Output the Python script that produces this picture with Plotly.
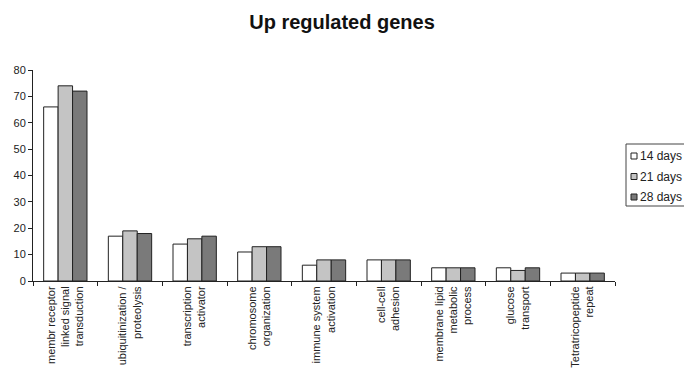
import plotly.graph_objects as go

categories = [
    "membr receptor<br>linked signal<br>transduction",
    "ubiquitinization /<br>proteolysis",
    "transcription<br>activator",
    "chromosome<br>organization",
    "immune system<br>activation",
    "cell-cell<br>adhesion",
    "membrane lipid<br>metabolic<br>process",
    "glucose<br>transport",
    "Tetratricopeptide<br>repeat",
]
days14 = [66, 17, 14, 11, 6, 8, 5, 5, 3]
days21 = [74, 19, 16, 13, 8, 8, 5, 4, 3]
days28 = [72, 18, 17, 13, 8, 8, 5, 5, 3]
series_names = ["14 days", "21 days", "28 days"]
colors = ["#ffffff", "#c4c4c4", "#7a7a7a"]

W, H = 684, 377
L, R, T, B = 33, 69, 70, 96
PW, PH = W - L - R, H - T - B


def px_x(p):
    return (p - L) / PW


def px_y(p):
    return (H - B - p) / PH


fig = go.Figure()
for name, vals, col in zip(series_names, [days14, days21, days28], colors):
    fig.add_trace(go.Bar(
        x=categories, y=vals, name=name,
        marker=dict(color=col, line=dict(color="#222222", width=1)),
    ))

# manual legend (box, swatches, labels)
shapes = [dict(type="rect", xref="paper", yref="paper",
               x0=px_x(626), x1=px_x(700), y0=px_y(206), y1=px_y(144),
               line=dict(color="#444444", width=1), fillcolor="white", layer="above")]
annotations = []
for i, (name, col) in enumerate(zip(series_names, colors)):
    cy = 156 + i * 20.5
    shapes.append(dict(type="rect", xref="paper", yref="paper",
                       x0=px_x(631), x1=px_x(637), y0=px_y(cy + 3), y1=px_y(cy - 3),
                       line=dict(color="#222222", width=1), fillcolor=col, layer="above"))
    annotations.append(dict(text=name, xref="paper", yref="paper", x=px_x(638), y=px_y(cy),
                            xanchor="left", yanchor="middle", showarrow=False,
                            font=dict(size=12, color="#222222")))

fig.update_layout(
    width=W, height=H,
    margin=dict(l=L, r=R, t=T, b=B),
    paper_bgcolor="white", plot_bgcolor="white",
    barmode="group", bargap=0.33, bargroupgap=0,
    font=dict(family="Liberation Sans, Arial, sans-serif", size=11, color="#222222"),
    title=dict(text="<b>Up regulated genes</b>", x=0.5, xanchor="center",
               y=1 - 22 / H, yanchor="middle", yref="container",
               font=dict(size=20, color="#111111")),
    showlegend=False,
    shapes=shapes,
    annotations=annotations,
)
fig.update_yaxes(range=[0, 80], dtick=10, showgrid=False, showline=True,
                 linecolor="#222222", linewidth=1, ticks="outside", ticklen=4,
                 tickcolor="#222222", zeroline=False, tickfont=dict(size=11),
                 automargin=False)
fig.update_xaxes(showgrid=False, showline=True, linecolor="#222222", linewidth=1,
                 ticks="outside", ticklen=4, tickcolor="#222222",
                 tickson="boundaries", tickangle=-90, tickfont=dict(size=11),
                 automargin=False)

fig.write_html("out.html", config={"displayModeBar": False},
               post_script="document.body.style.margin='0';document.body.style.overflow='hidden';")
